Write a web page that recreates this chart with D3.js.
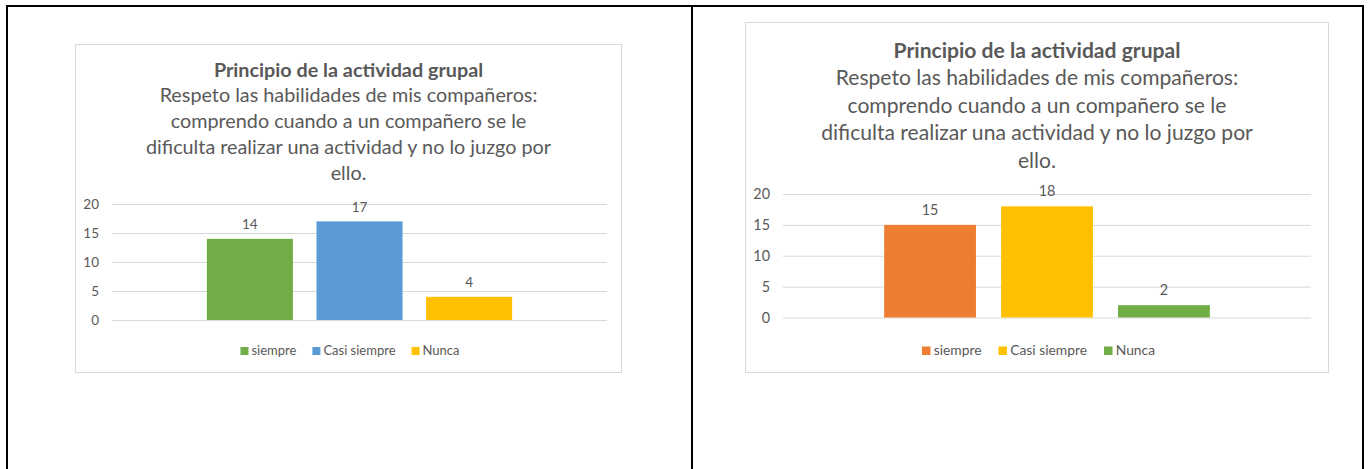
<!DOCTYPE html>
<html>
<head>
<meta charset="utf-8">
<script src="https://cdn.jsdelivr.net/npm/d3@7"></script>
<style>
  html, body { margin: 0; padding: 0; background: #fff; }
  svg { display: block; }
</style>
</head>
<body>
<svg id="page" width="1369" height="469"></svg>
<script>
// Survey answers, one bar per answer option
const seriesNames = ["siempre", "Casi siempre", "Nunca"];
const valuesFirst = [14, 17, 4];
const valuesSecond = [15, 18, 2];
const yTicks = [0, 5, 10, 15, 20];
const titleMain = "Principio de la actividad grupal";
const titleLines = [
  "Respeto las habilidades de mis compañeros:",
  "comprendo cuando a un compañero se le",
  "dificulta realizar una actividad y no lo juzgo por",
  "ello."
];

// Layout and styling of each panel
const panels = [
  {
    values: valuesFirst,
    colors: ["#70AD47", "#5B9BD5", "#FFC000"],
    box: { x0: 75.5, y0: 44.5, x1: 621.5, y1: 372.5 },
    plot: { left: 112, right: 607, top: 204, bottom: 320 },
    k: 1, titleY: 76.5, lineGap: 25.8, legendY: 355
  },
  {
    values: valuesSecond,
    colors: ["#ED7D31", "#FFC000", "#70AD47"],
    box: { x0: 745.5, y0: 22.5, x1: 1328.5, y1: 372.5 },
    plot: { left: 783, right: 1311, top: 194, bottom: 317.5 },
    k: 1.065, titleY: 57.5, lineGap: 27.6, legendY: 355
  }
];

const FONT = "Lato, 'Open Sans', sans-serif";
const TEXT = "#595959";
const GRID = "#D9D9D9";

const svg = d3.select("#page");
svg.append("rect").attr("width", 1369).attr("height", 469).attr("fill", "#fff");

// Table frame around the two panels
const frame = svg.append("g").attr("stroke", "#000").attr("stroke-width", 2);
frame.append("line").attr("x1", 6).attr("x2", 1364).attr("y1", 6).attr("y2", 6);
[7, 692, 1363].forEach(x => {
  frame.append("line").attr("x1", x).attr("x2", x).attr("y1", 5).attr("y2", 469);
});

panels.forEach(p => {
  const g = svg.append("g");
  const cx = (p.box.x0 + p.box.x1) / 2;

  // Chart area border
  g.append("rect")
    .attr("x", p.box.x0).attr("y", p.box.y0)
    .attr("width", p.box.x1 - p.box.x0).attr("height", p.box.y1 - p.box.y0)
    .attr("fill", "#fff").attr("stroke", GRID).attr("stroke-width", 1);

  // Title
  g.append("text")
    .attr("x", cx).attr("y", p.titleY)
    .attr("text-anchor", "middle")
    .attr("font-family", FONT).attr("font-weight", 700)
    .attr("font-size", 19.8 * p.k).attr("fill", TEXT)
    .text(titleMain);
  titleLines.forEach((line, i) => {
    g.append("text")
      .attr("x", cx).attr("y", p.titleY + p.lineGap * (i + 1))
      .attr("text-anchor", "middle")
      .attr("font-family", FONT)
      .attr("font-size", 19.8 * p.k).attr("fill", TEXT)
      .text(line);
  });

  // Scales
  const y = d3.scaleLinear().domain([0, 20]).range([p.plot.bottom, p.plot.top]);
  const outer = d3.scaleBand().domain(["grupo"]).range([p.plot.left, p.plot.right]).padding(0.237);
  const inner = d3.scaleBand().domain(seriesNames)
    .range([outer("grupo"), outer("grupo") + outer.bandwidth()])
    .paddingInner(0.215).paddingOuter(0);

  // Value axis with gridlines
  const axis = g.append("g")
    .attr("transform", `translate(${p.plot.left},0)`)
    .call(d3.axisLeft(y).tickValues(yTicks)
      .tickSize(-(p.plot.right - p.plot.left)).tickPadding(13));
  axis.select(".domain").remove();
  axis.selectAll(".tick line").attr("stroke", GRID).attr("stroke-width", 1);
  axis.selectAll(".tick text")
    .attr("font-family", FONT).attr("font-size", 13.5 * p.k).attr("fill", TEXT);

  // Bars
  g.selectAll("rect.bar")
    .data(seriesNames.map((s, i) => ({ s, v: p.values[i], c: p.colors[i] })))
    .join("rect").attr("class", "bar")
    .attr("x", d => inner(d.s)).attr("width", inner.bandwidth())
    .attr("y", d => y(d.v)).attr("height", d => y(0) - y(d.v))
    .attr("fill", d => d.c);

  // Value labels
  g.selectAll("text.val")
    .data(seriesNames.map((s, i) => ({ s, v: p.values[i] })))
    .join("text").attr("class", "val")
    .attr("x", d => inner(d.s) + inner.bandwidth() / 2)
    .attr("y", d => y(d.v) - 9.5 * p.k)
    .attr("text-anchor", "middle")
    .attr("font-family", FONT).attr("font-size", 13.5 * p.k).attr("fill", TEXT)
    .text(d => d.v);

  // Legend, centred under the plot
  const sq = 8 * p.k, gapIn = 3 * p.k, gapOut = 16 * p.k;
  const leg = g.append("g");
  const items = seriesNames.map((s, i) => {
    const it = leg.append("g");
    it.append("rect").attr("width", sq).attr("height", sq)
      .attr("y", p.legendY - sq).attr("fill", p.colors[i]);
    const t = it.append("text").attr("x", sq + gapIn).attr("y", p.legendY)
      .attr("font-family", FONT).attr("font-size", 13 * p.k).attr("fill", TEXT)
      .text(s);
    return { it, w: sq + gapIn + t.node().getComputedTextLength() };
  });
  const total = d3.sum(items, d => d.w) + gapOut * (items.length - 1);
  let x = cx + 1.5 - total / 2;
  items.forEach(d => {
    d.it.attr("transform", `translate(${x},0)`);
    x += d.w + gapOut;
  });
});
</script>
</body>
</html>
